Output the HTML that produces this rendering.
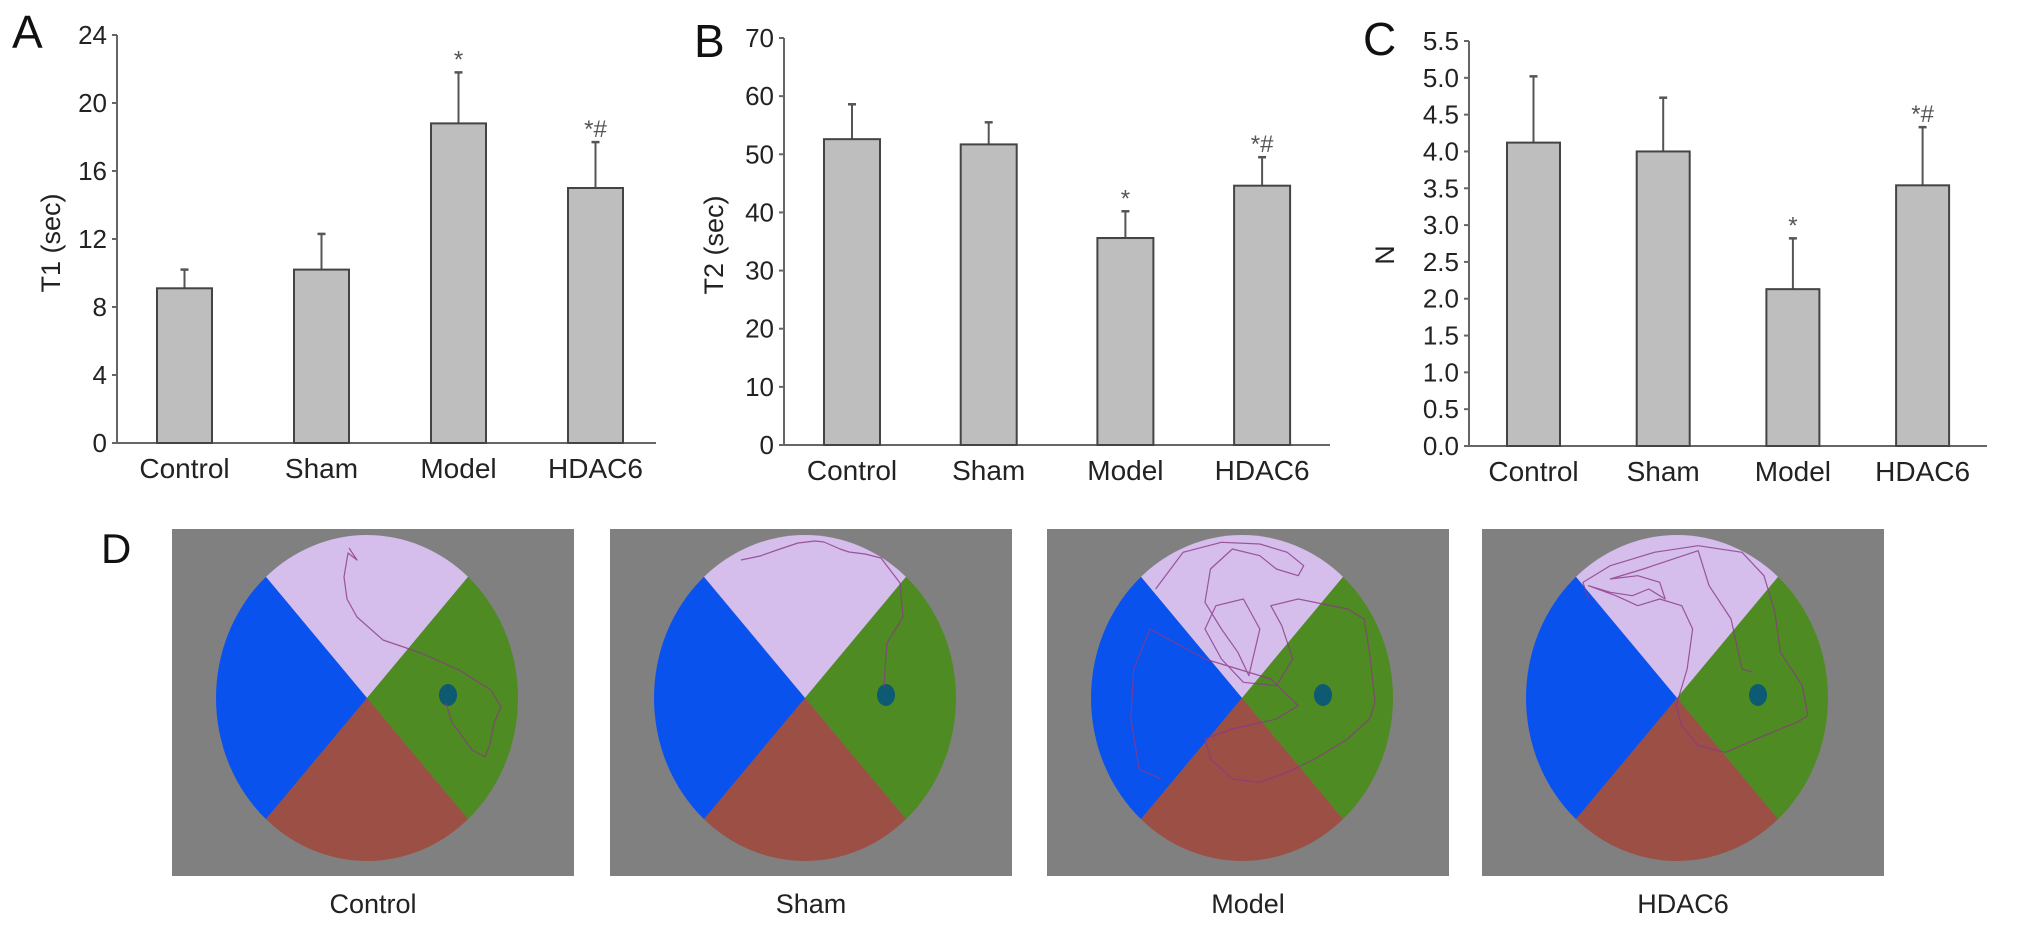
<!DOCTYPE html>
<html><head><meta charset="utf-8"><style>
html,body{margin:0;padding:0;background:#fff;width:2032px;height:927px;overflow:hidden}
svg{display:block;font-family:"Liberation Sans",sans-serif}
</style></head><body>
<svg id="fig" width="2032" height="927" viewBox="0 0 2032 927" xmlns="http://www.w3.org/2000/svg"></svg>
<script>
const categories = ["Control","Sham","Model","HDAC6"];
const t1Values = [9.1, 10.2, 18.8, 15.0];
const t1Upper = [10.2, 12.3, 21.8, 17.7];
const t1Ticks = [0,4,8,12,16,20,24];
const t1Marks = ["","","*","*#"];
const t2Values = [52.6, 51.7, 35.6, 44.6];
const t2Upper = [58.6, 55.5, 40.2, 49.5];
const t2Ticks = [0,10,20,30,40,50,60,70];
const t2Marks = ["","","*","*#"];
const nValues = [4.12, 4.0, 2.13, 3.54];
const nUpper = [5.02, 4.73, 2.82, 4.33];
const nTicks = ["0.0","0.5","1.0","1.5","2.0","2.5","3.0","3.5","4.0","4.5","5.0","5.5"];
const nMarks = ["","","*","*#"];

const NS = "http://www.w3.org/2000/svg";
const svg = document.getElementById('fig');
function mk(tag, attrs, parent){const e=document.createElementNS(NS,tag);for(const k in attrs)e.setAttribute(k,attrs[k]);(parent||svg).appendChild(e);return e;}

function chart(cfg){
  const g = mk('g',{});
  
  
  const tmin=+cfg.ticks[0], tmax=+cfg.ticks[cfg.ticks.length-1];
  const y = v => cfg.y0 - (v - tmin)/(tmax-tmin)*(cfg.y0-cfg.yTop);
  const xc = i => cfg.barX0 + cfg.step*i + cfg.bw/2;
  const L = mk('text',{x:cfg.letterX,y:cfg.letterY,'font-size':46,fill:'#111'},g); L.textContent=cfg.letter;
  
  
  const ya = mk('line',{x1:cfg.ax,y1:cfg.yTop,x2:cfg.ax,y2:cfg.y0,stroke:'#666','stroke-width':2},g);
  
  
  const xa = mk('line',{x1:cfg.ax,y1:cfg.y0,x2:cfg.axEnd,y2:cfg.y0,stroke:'#666','stroke-width':2},g);
  
  
  cfg.ticks.forEach(t=>{
    const yy=y(+t);
    mk('line',{x1:cfg.ax-5,y1:yy,x2:cfg.ax,y2:yy,stroke:'#666','stroke-width':2},g);
    const tl=mk('text',{x:cfg.ax-10,y:yy+9,'font-size':26,'text-anchor':'end',fill:'#222'},g);
    tl.textContent=t;
    
    
  });
  const yt=mk('text',{x:0,y:0,'font-size':27,'text-anchor':'middle',fill:'#222',transform:`translate(${cfg.titleX},${cfg.titleY}) rotate(-90)`},g);
  yt.textContent=cfg.title;
  
  
  categories.forEach((c,i)=>{
    const top=y(cfg.values[i]), up=y(cfg.upper[i]), cx=xc(i);
    const eb=mk('line',{x1:cx,y1:up,x2:cx,y2:top,stroke:'#555','stroke-width':2},g);
    
    
    mk('line',{x1:cx-4,y1:up,x2:cx+4,y2:up,stroke:'#555','stroke-width':2.5},g);
    const b=mk('rect',{x:cfg.barX0+cfg.step*i,y:top,width:cfg.bw,height:cfg.y0-top,fill:'#bebebe',stroke:'#444','stroke-width':2},g);
    
    
    if(cfg.marks[i]){
      const m=mk('text',{x:cx,y:up-5,'font-size':24,'text-anchor':'middle',fill:'#555'},g);
      m.textContent=cfg.marks[i];
      
      
    }
    const xl=mk('text',{x:cx,y:cfg.y0+35,'font-size':28,'text-anchor':'middle',fill:'#222'},g);
    xl.textContent=c;
    
    
  });
}
chart({name:'chart-t1',letter:'A',letterX:12,letterY:48,ax:117,axEnd:656,yTop:35,y0:443,barX0:157,step:137,bw:55,ticks:t1Ticks,values:t1Values,upper:t1Upper,marks:t1Marks,title:'T1 (sec)',titleX:60,titleY:243});
chart({name:'chart-t2',letter:'B',letterX:694,letterY:57,ax:784,axEnd:1330,yTop:38,y0:445,barX0:824,step:136.7,bw:56,ticks:t2Ticks,values:t2Values,upper:t2Upper,marks:t2Marks,title:'T2 (sec)',titleX:723,titleY:245});
chart({name:'chart-n',letter:'C',letterX:1363,letterY:55,ax:1469,axEnd:1987,yTop:41,y0:446,barX0:1507,step:129.7,bw:53,ticks:nTicks,values:nValues,upper:nUpper,marks:nMarks,title:'N',titleX:1394,titleY:255});

const dL=mk('text',{x:101,y:563,'font-size':42,fill:'#111'}); dL.textContent='D';


const panelX=[172,610,1047,1482], panelNames=["Control","Sham","Model","HDAC6"];
const PW=402, PH=347, CX=195, CY=169, RX=151, RY=163;
function pt(a){return [CX+RX*Math.cos(a), CY+RY*Math.sin(a)];}
const deg=Math.PI/180;
const bounds=[-132,-48,48,132];
const cols=['#d5bdec','#4e8b22','#9b4f45','#0a52ee'];
const paths = [
 [[177,19],[185,31],[176,24],[172,48],[175,70],[185,88],[211,111],[249,124],[287,141],[319,161],[329,178],[322,194],[318,215],[313,228],[300,221],[285,200],[280,194],[274,174]],
 [[131,31],[150,27],[170,20],[188,14],[205,12],[214,13],[230,20],[239,23],[255,25],[271,29],[290,54],[293,88],[277,114],[275,140],[274,158]],
];
function z6(list,ox){return list.map(p=>[(p[0]-ox)/1.823,(p[1]-30)/3]);}
paths.push(z6([[210,210],[260,100],[330,70],[400,75],[450,100],[480,140],[470,170],[430,150],[400,110],[350,90],[310,150],[300,250],[330,330],[360,400],[380,470],[400,330],[370,240],[320,260],[300,330],[330,420],[370,490],[430,500],[460,420],[440,320],[420,260],[470,240],[560,270],[590,300],[600,400],[610,550],[600,600],[560,660],[500,720],[450,760],[400,790],[350,780],[310,720],[300,660],[350,630],[430,600],[470,560],[420,480],[300,420],[200,330],[170,450],[165,600],[180,750],[220,780]],12));
paths.push(z6([[1000,240],[990,190],[1040,140],[1120,100],[1200,80],[1280,100],[1320,170],[1340,280],[1350,400],[1390,500],[1400,590],[1380,610],[1320,650],[1250,700],[1200,680],[1170,620],[1160,560],[1180,450],[1190,330],[1170,260],[1130,240],[1090,260],[1050,230],[1000,200],[1040,220],[1080,230],[1110,210],[1140,240],[1130,190],[1090,170],[1040,180],[1100,150],[1200,95],[1220,200],[1260,300],[1280,450],[1300,460]],806));
panelX.forEach((px,i)=>{
  const g=mk('g',{transform:`translate(${px},529)`});
  
  
  mk('rect',{x:0,y:0,width:PW,height:PH,fill:'#808080'},g);
  for(let s=0;s<4;s++){
    const a0=bounds[s]*deg, a1=(s<3?bounds[s+1]:bounds[0]+360)*deg;
    const p0=pt(a0), p1=pt(a1);
    mk('path',{d:`M${CX},${CY} L${p0[0]},${p0[1]} A${RX},${RY} 0 0 1 ${p1[0]},${p1[1]} Z`,fill:cols[s]},g);
  }
  mk('ellipse',{cx:CX+81,cy:CY-3,rx:9,ry:11,fill:'#0d5a72'},g);
  const tr=mk('polyline',{points:paths[i].map(p=>p.join(',')).join(' '),fill:'none',stroke:'#8a3a86','stroke-width':1.2,'stroke-linejoin':'round',opacity:0.8},g);
  
  
  const lab=mk('text',{x:px+PW/2,y:913,'font-size':27,'text-anchor':'middle',fill:'#222'});
  lab.textContent=panelNames[i];
  
  
});
</script>
</body></html>
